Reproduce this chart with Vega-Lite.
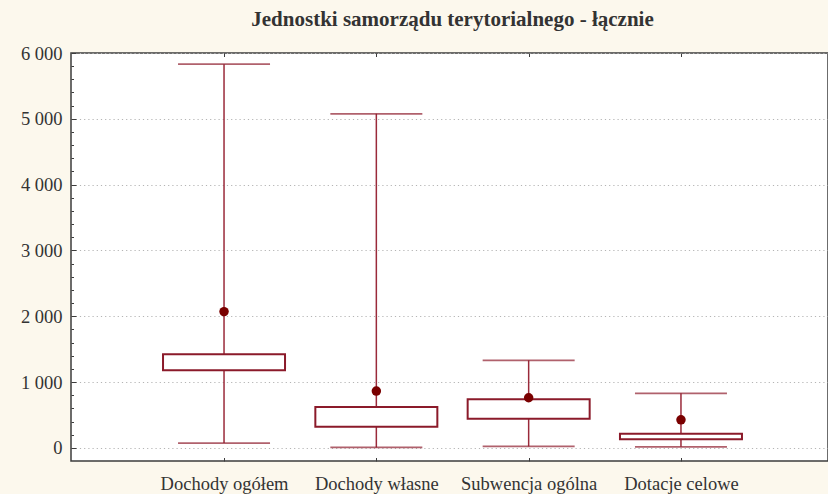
{
  "$schema": "https://vega.github.io/schema/vega-lite/v6.json",
  "autosize": {"type": "none"},
  "padding": {"left": 71, "top": 53, "right": 0, "bottom": 33},
  "width": 757,
  "height": 408,
  "background": "#fcf8ed",
  "title": {
    "text": "Jednostki samorządu terytorialnego - łącznie",
    "font": "Liberation Serif",
    "fontSize": 21,
    "fontWeight": "bold",
    "color": "#333333",
    "anchor": "middle",
    "frame": "group",
    "offset": 14,
    "dx": 3
  },
  "config": {
    "locale": {"number": {"decimal": ",", "thousands": " ", "grouping": [3], "currency": ["", " zł"]}},
    "view": {"fill": "white", "stroke": "#3c3c3c", "strokeWidth": 1.5},
    "axis": {"labelFont": "Liberation Serif", "labelColor": "#333333", "tickColor": "#3c3c3c", "title": null}
  },
  "data": {
    "values": [
      {"cat": "Dochody ogółem", "min": 72, "q1": 1178, "q3": 1422, "max": 5830, "mean": 2070},
      {"cat": "Dochody własne", "min": 6, "q1": 320, "q3": 619, "max": 5075, "mean": 863},
      {"cat": "Subwencja ogólna", "min": 21, "q1": 441, "q3": 737, "max": 1330, "mean": 761},
      {"cat": "Dotacje celowe", "min": 15, "q1": 132, "q3": 213, "max": 828, "mean": 426}
    ]
  },
  "resolve": {"axis": {"x": "independent", "y": "independent"}},
  "layer": [
    {
      "mark": {"type": "rule", "color": "#9a2a3a", "strokeWidth": 1.5},
      "encoding": {
        "x": {
          "field": "cat", "type": "nominal", "sort": null,
          "scale": {"type": "point", "padding": 0.985, "align": 0.51},
          "axis": {"orient": "bottom", "labelAngle": 0, "labelFontSize": 18.5, "tickSize": -3.5, "domain": false, "labelPadding": 17, "grid": false}
        },
        "y": {
          "field": "min", "type": "quantitative",
          "scale": {"domain": [-200, 6000], "nice": false, "zero": false},
          "axis": {"orient": "left", "values": [0, 1000, 2000, 3000, 4000, 5000, 6000], "format": ",d", "labelFontSize": 18.5, "tickSize": -5, "domain": false, "labelPadding": 14, "grid": true, "gridColor": "#b4b4b4", "gridDash": [1.2, 3], "gridWidth": 1}
        },
        "y2": {"field": "max"}
      }
    },
    {
      "mark": {"type": "tick", "color": "#8e1e2e", "size": 92, "thickness": 1.8},
      "encoding": {
        "x": {"field": "cat", "type": "nominal", "sort": null, "axis": {"orient": "top", "labels": false, "tickSize": -3.5, "domain": false, "grid": false}},
        "y": {"field": "min", "type": "quantitative", "axis": {"orient": "left", "values": [0, 200, 400, 600, 800, 1000, 1200, 1400, 1600, 1800, 2000, 2200, 2400, 2600, 2800, 3000, 3200, 3400, 3600, 3800, 4000, 4200, 4400, 4600, 4800, 5000, 5200, 5400, 5600, 5800, 6000], "labels": false, "tickSize": -2.5, "domain": false, "grid": false}}
      }
    },
    {
      "mark": {"type": "tick", "color": "#8e1e2e", "size": 92, "thickness": 1.8},
      "encoding": {
        "x": {"field": "cat", "type": "nominal", "sort": null, "axis": null},
        "y": {"field": "max", "type": "quantitative", "axis": null}
      }
    },
    {
      "mark": {"type": "bar", "width": 122, "fill": "white", "stroke": "#8b1a2a", "strokeWidth": 2},
      "encoding": {
        "x": {"field": "cat", "type": "nominal", "sort": null, "axis": null},
        "y": {"field": "q1", "type": "quantitative", "axis": null},
        "y2": {"field": "q3"}
      }
    },
    {
      "mark": {"type": "point", "shape": "circle", "filled": true, "opacity": 1, "color": "#7a0000", "size": 90},
      "encoding": {
        "x": {"field": "cat", "type": "nominal", "sort": null, "axis": null},
        "y": {"field": "mean", "type": "quantitative", "axis": null}
      }
    }
  ]
}
